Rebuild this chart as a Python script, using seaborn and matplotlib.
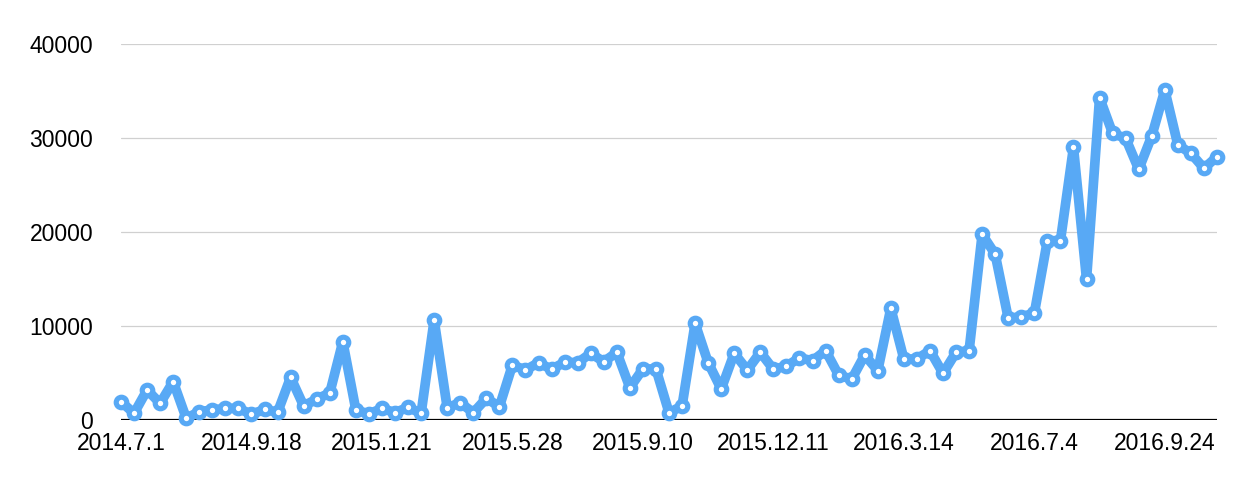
import numpy as np
import pandas as pd
import seaborn as sns
import matplotlib.pyplot as plt

# ======================================
# DATA
# ======================================

values = [
    1950, 710, 3190, 1780, 4080, 180, 890, 1060, 1240, 1240,
    600, 1130, 820, 4540, 1490, 2230, 2870, 8330, 1060, 640,
    1240, 780, 1350, 710, 10640, 1310, 1840, 780, 2300, 1420,
    5850, 5320, 6100, 5390, 6150, 6100, 7090, 6200, 7200, 3440,
    5430, 5430, 780, 1490, 10280, 6100, 3300, 7090, 5320, 7200,
    5390, 5740, 6600, 6310, 7380, 4790, 4330, 6910, 5250, 11880,
    6490, 6490, 7380, 4960, 7200, 7380, 19750, 17630, 10820, 10990,
    11350, 19080, 19080, 29010, 14970, 34290, 30500, 29960, 26670, 30210,
    35100, 29260, 28370, 26770, 28010
]

tick_labels = [
    "2014.7.1", "2014.9.18", "2015.1.21", "2015.5.28", "2015.9.10",
    "2015.12.11", "2016.3.14", "2016.7.4", "2016.9.24"
]
tick_positions = [0, 10, 20, 30, 40, 50, 60, 70, 80]

y_ticks = [0, 10000, 20000, 30000, 40000]

df = pd.DataFrame({
    "idx": np.arange(len(values)),
    "value": values
})

# ======================================
# PLOT
# ======================================

sns.set_style("white")
plt.rcParams["font.family"] = ["Liberation Sans", "DejaVu Sans"]

fig = plt.figure(figsize=(12.54, 4.8), dpi=100)
ax = fig.add_axes([0.0965, 0.125, 0.8740, 0.7833])

blue = "#58A9F5"

sns.lineplot(
    data=df,
    x="idx",
    y="value",
    ax=ax,
    color=blue,
    linewidth=7.0,
    marker="o",
    markersize=7.6,
    markerfacecolor="white",
    markeredgecolor=blue,
    markeredgewidth=3.7,
    clip_on=False,
    zorder=3
)

for line in ax.lines:
    line.set_solid_joinstyle("round")

ax.set_xlim(0, len(values) - 1)
ax.set_ylim(0, 40000)

for yt in y_ticks[1:]:
    ax.axhline(yt, color="#d0d0d0", linewidth=0.9, zorder=1)
ax.axhline(0, color="black", linewidth=1.6, zorder=2)

ax.set_yticks(y_ticks)
ax.set_yticklabels([str(v) for v in y_ticks])
ax.set_xticks(tick_positions)
ax.set_xticklabels(tick_labels)

ax.tick_params(axis="y", length=0, pad=20, labelsize=16.5, labelcolor="black")
ax.tick_params(axis="x", length=0, pad=9, labelsize=16.5, labelcolor="black")

for spine in ax.spines.values():
    spine.set_visible(False)

ax.set_xlabel("")
ax.set_ylabel("")

plt.savefig("out.png", dpi=100)
